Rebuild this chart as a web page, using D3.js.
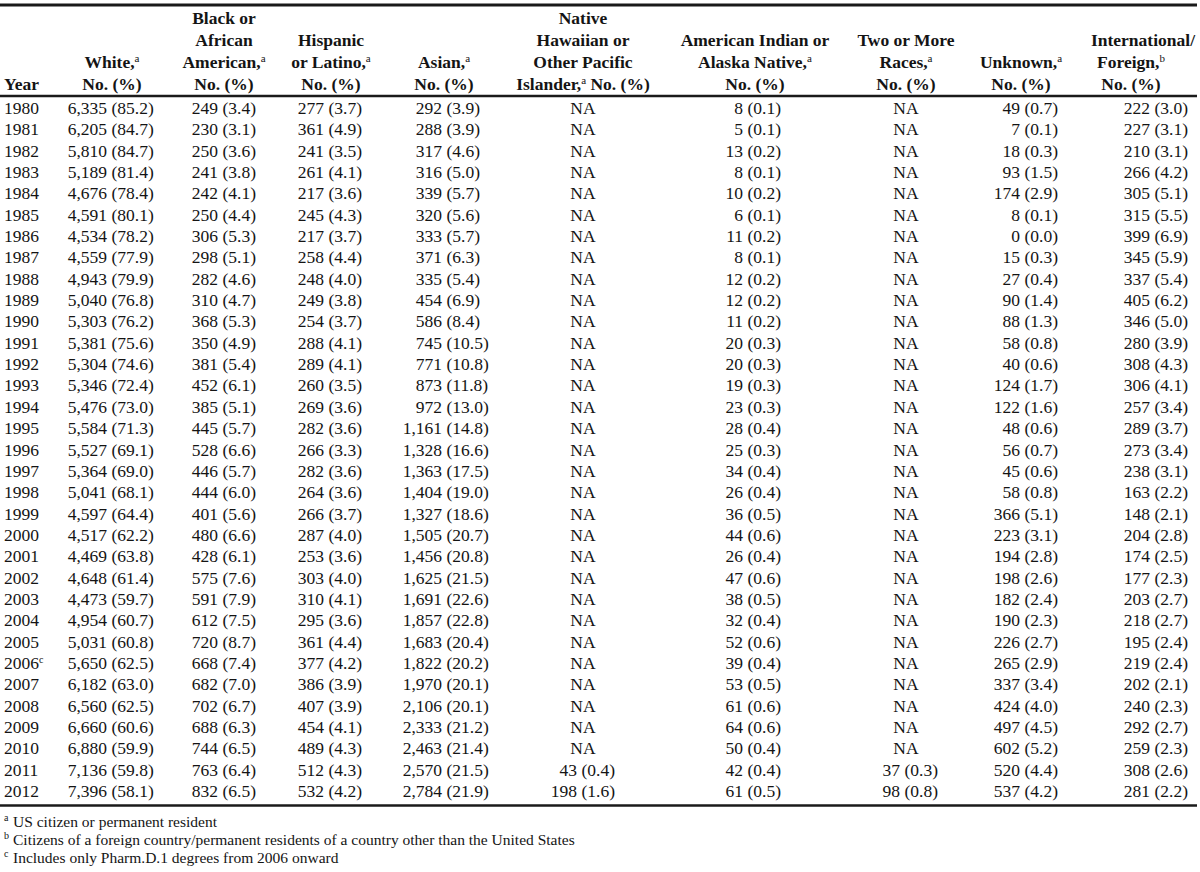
<!DOCTYPE html>
<html>
<head>
<meta charset="utf-8">
<script src="https://cdn.jsdelivr.net/npm/d3@7"></script>
<style>
  html, body { margin: 0; padding: 0; background: #fff; }
  svg text { font-family: "Liberation Serif", "Times New Roman", serif; fill: #141414; }
</style>
</head>
<body>
<svg id="chart" width="1200" height="872"></svg>
<script>
// ---------- data ----------
const years = ["1980","1981","1982","1983","1984","1985","1986","1987","1988","1989","1990",
  "1991","1992","1993","1994","1995","1996","1997","1998","1999","2000","2001","2002",
  "2003","2004","2005","2006","2007","2008","2009","2010","2011","2012"];
const yearNotes = {"2006": "c"};

const whiteN = [6335,6205,5810,5189,4676,4591,4534,4559,4943,5040,5303,5381,5304,5346,5476,5584,5527,5364,5041,4597,4517,4469,4648,4473,4954,5031,5650,6182,6560,6660,6880,7136,7396];
const whiteP = [85.2,84.7,84.7,81.4,78.4,80.1,78.2,77.9,79.9,76.8,76.2,75.6,74.6,72.4,73.0,71.3,69.1,69.0,68.1,64.4,62.2,63.8,61.4,59.7,60.7,60.8,62.5,63.0,62.5,60.6,59.9,59.8,58.1];

const blackN = [249,230,250,241,242,250,306,298,282,310,368,350,381,452,385,445,528,446,444,401,480,428,575,591,612,720,668,682,702,688,744,763,832];
const blackP = [3.4,3.1,3.6,3.8,4.1,4.4,5.3,5.1,4.6,4.7,5.3,4.9,5.4,6.1,5.1,5.7,6.6,5.7,6.0,5.6,6.6,6.1,7.6,7.9,7.5,8.7,7.4,7.0,6.7,6.3,6.5,6.4,6.5];

const hispN = [277,361,241,261,217,245,217,258,248,249,254,288,289,260,269,282,266,282,264,266,287,253,303,310,295,361,377,386,407,454,489,512,532];
const hispP = [3.7,4.9,3.5,4.1,3.6,4.3,3.7,4.4,4.0,3.8,3.7,4.1,4.1,3.5,3.6,3.6,3.3,3.6,3.6,3.7,4.0,3.6,4.0,4.1,3.6,4.4,4.2,3.9,3.9,4.1,4.3,4.3,4.2];

const asianN = [292,288,317,316,339,320,333,371,335,454,586,745,771,873,972,1161,1328,1363,1404,1327,1505,1456,1625,1691,1857,1683,1822,1970,2106,2333,2463,2570,2784];
const asianP = [3.9,3.9,4.6,5.0,5.7,5.6,5.7,6.3,5.4,6.9,8.4,10.5,10.8,11.8,13.0,14.8,16.6,17.5,19.0,18.6,20.7,20.8,21.5,22.6,22.8,20.4,20.2,20.1,20.1,21.2,21.4,21.5,21.9];

const nhpiN = [null,null,null,null,null,null,null,null,null,null,null,null,null,null,null,null,null,null,null,null,null,null,null,null,null,null,null,null,null,null,null,43,198];
const nhpiP = [null,null,null,null,null,null,null,null,null,null,null,null,null,null,null,null,null,null,null,null,null,null,null,null,null,null,null,null,null,null,null,0.4,1.6];

const aianN = [8,5,13,8,10,6,11,8,12,12,11,20,20,19,23,28,25,34,26,36,44,26,47,38,32,52,39,53,61,64,50,42,61];
const aianP = [0.1,0.1,0.2,0.1,0.2,0.1,0.2,0.1,0.2,0.2,0.2,0.3,0.3,0.3,0.3,0.4,0.3,0.4,0.4,0.5,0.6,0.4,0.6,0.5,0.4,0.6,0.4,0.5,0.6,0.6,0.4,0.4,0.5];

const twoN = [null,null,null,null,null,null,null,null,null,null,null,null,null,null,null,null,null,null,null,null,null,null,null,null,null,null,null,null,null,null,null,37,98];
const twoP = [null,null,null,null,null,null,null,null,null,null,null,null,null,null,null,null,null,null,null,null,null,null,null,null,null,null,null,null,null,null,null,0.3,0.8];

const unkN = [49,7,18,93,174,8,0,15,27,90,88,58,40,124,122,48,56,45,58,366,223,194,198,182,190,226,265,337,424,497,602,520,537];
const unkP = [0.7,0.1,0.3,1.5,2.9,0.1,0.0,0.3,0.4,1.4,1.3,0.8,0.6,1.7,1.6,0.6,0.7,0.6,0.8,5.1,3.1,2.8,2.6,2.4,2.3,2.7,2.9,3.4,4.0,4.5,5.2,4.4,4.2];

const intlN = [222,227,210,266,305,315,399,345,337,405,346,280,308,306,257,289,273,238,163,148,204,174,177,203,218,195,219,202,240,292,259,308,281];
const intlP = [3.0,3.1,3.1,4.2,5.1,5.5,6.9,5.9,5.4,6.2,5.0,3.9,4.3,4.1,3.4,3.7,3.4,3.1,2.2,2.1,2.8,2.5,2.3,2.7,2.7,2.4,2.4,2.1,2.3,2.7,2.3,2.6,2.2];

// header labels: each line is a list of [text, superscript]
const headerLabels = {
  year:  [[["Year",""]]],
  white: [[["White,","a"]],[["No. (%)",""]]],
  black: [[["Black or",""]],[["African",""]],[["American,","a"]],[["No. (%)",""]]],
  hisp:  [[["Hispanic",""]],[["or Latino,","a"]],[["No. (%)",""]]],
  asian: [[["Asian,","a"]],[["No. (%)",""]]],
  nhpi:  [[["Native",""]],[["Hawaiian or",""]],[["Other Pacific",""]],[["Islander,","a"],[" No. (%)",""]]],
  aian:  [[["American Indian or",""]],[["Alaska Native,","a"]],[["No. (%)",""]]],
  two:   [[["Two or More",""]],[["Races,","a"]],[["No. (%)",""]]],
  unk:   [[["Unknown,","a"]],[["No. (%)",""]]],
  intl:  [[["International/",""]],[["Foreign,","b"]],[["No. (%)",""]]]
};

const footnotes = [
  ["a", "US citizen or permanent resident"],
  ["b", "Citizens of a foreign country/permanent residents of a country other than the United States"],
  ["c", "Includes only Pharm.D.1 degrees from 2006 onward"]
];

const seriesKeys = ["white","black","hisp","asian","nhpi","aian","two","unk","intl"];
const seriesData = {
  white:[whiteN,whiteP], black:[blackN,blackP], hisp:[hispN,hispP], asian:[asianN,asianP],
  nhpi:[nhpiN,nhpiP], aian:[aianN,aianP], two:[twoN,twoP], unk:[unkN,unkP], intl:[intlN,intlP]
};

// ---------- layout ----------
const svg = d3.select("#chart");
const FS = 17.5;   // body
const HFS = 17.5;  // header

// column centers for headers / NA
const colCenter = d3.scaleOrdinal()
  .domain(["year"].concat(seriesKeys))
  .range([4, 112, 224, 331, 444, 583, 755, 906, 1021, 1131]);
// right edge of the count in each column
const countEnd = d3.scaleOrdinal()
  .domain(seriesKeys)
  .range([107, 218, 324, 442, 577, 743, 900, 1020, 1150]);

const rowY = d3.scalePoint().domain(years).range([114, 797]);

const fmtN = d3.format(",");
const fmtP = d3.format(".1f");

// rules
const rules = [
  {y: 5, w: 3},
  {y: 96, w: 2.5},
  {y: 805.5, w: 2.5}
];
svg.selectAll("line.rule").data(rules).enter().append("line")
  .attr("class","rule")
  .attr("x1", 0).attr("x2", 1197)
  .attr("y1", d => d.y).attr("y2", d => d.y)
  .attr("stroke", "#1a1a1a").attr("stroke-width", d => d.w);

// header
const headerBase = [24, 46, 68, 90];
const headerG = svg.append("g").attr("font-weight", "bold").attr("font-size", HFS);
Object.keys(headerLabels).forEach(key => {
  const lines = headerLabels[key];
  const n = lines.length;
  lines.forEach((segs, i) => {
    const t = headerG.append("text")
      .attr("x", colCenter(key) + (key === "intl" && i === 0 ? 12 : 0))
      .attr("y", headerBase[4 - n + i])
      .attr("text-anchor", key === "year" ? "start" : "middle");
    segs.forEach(([txt, sup]) => {
      t.append("tspan").text(txt);
      if (sup) {
        t.append("tspan").attr("font-size", 11).attr("baseline-shift", "6").attr("font-weight","normal").text(sup);
      }
    });
  });
});

// body
const body = svg.append("g").attr("font-size", FS);
// years
const yt = body.selectAll("text.year").data(years).enter().append("text")
  .attr("class","year").attr("x", colCenter("year")).attr("y", d => rowY(d));
yt.append("tspan").text(d => d);
yt.filter(d => yearNotes[d]).append("tspan")
  .attr("font-size", 10).attr("baseline-shift", "6").text(d => yearNotes[d]);

seriesKeys.forEach(key => {
  const [ns, ps] = seriesData[key];
  const rows = years.map((y, i) => ({year: y, n: ns[i], p: ps[i]}));
  const g = body.append("g");
  g.selectAll("text.na").data(rows.filter(r => r.n === null)).enter().append("text")
    .attr("class","na").attr("x", colCenter(key)).attr("y", r => rowY(r.year))
    .attr("text-anchor","middle").text("NA");
  const vals = rows.filter(r => r.n !== null);
  g.selectAll("text.cnt").data(vals).enter().append("text")
    .attr("class","cnt").attr("x", countEnd(key)).attr("y", r => rowY(r.year))
    .attr("text-anchor","end").text(r => fmtN(r.n));
  g.selectAll("text.pct").data(vals).enter().append("text")
    .attr("class","pct").attr("x", countEnd(key) + 4.5).attr("y", r => rowY(r.year))
    .attr("text-anchor","start").text(r => "(" + fmtP(r.p) + ")");
});

// footnotes
const fy = d3.scalePoint().domain(footnotes.map(f => f[0])).range([827, 863]);
const fg = svg.append("g").attr("font-size", 15.5);
fg.selectAll("text.fn-sup").data(footnotes).enter().append("text")
  .attr("x", 4).attr("y", d => fy(d[0]) - 6).attr("font-size", 10).text(d => d[0]);
fg.selectAll("text.fn").data(footnotes).enter().append("text")
  .attr("x", 13).attr("y", d => fy(d[0])).text(d => d[1]);
</script>
</body>
</html>
